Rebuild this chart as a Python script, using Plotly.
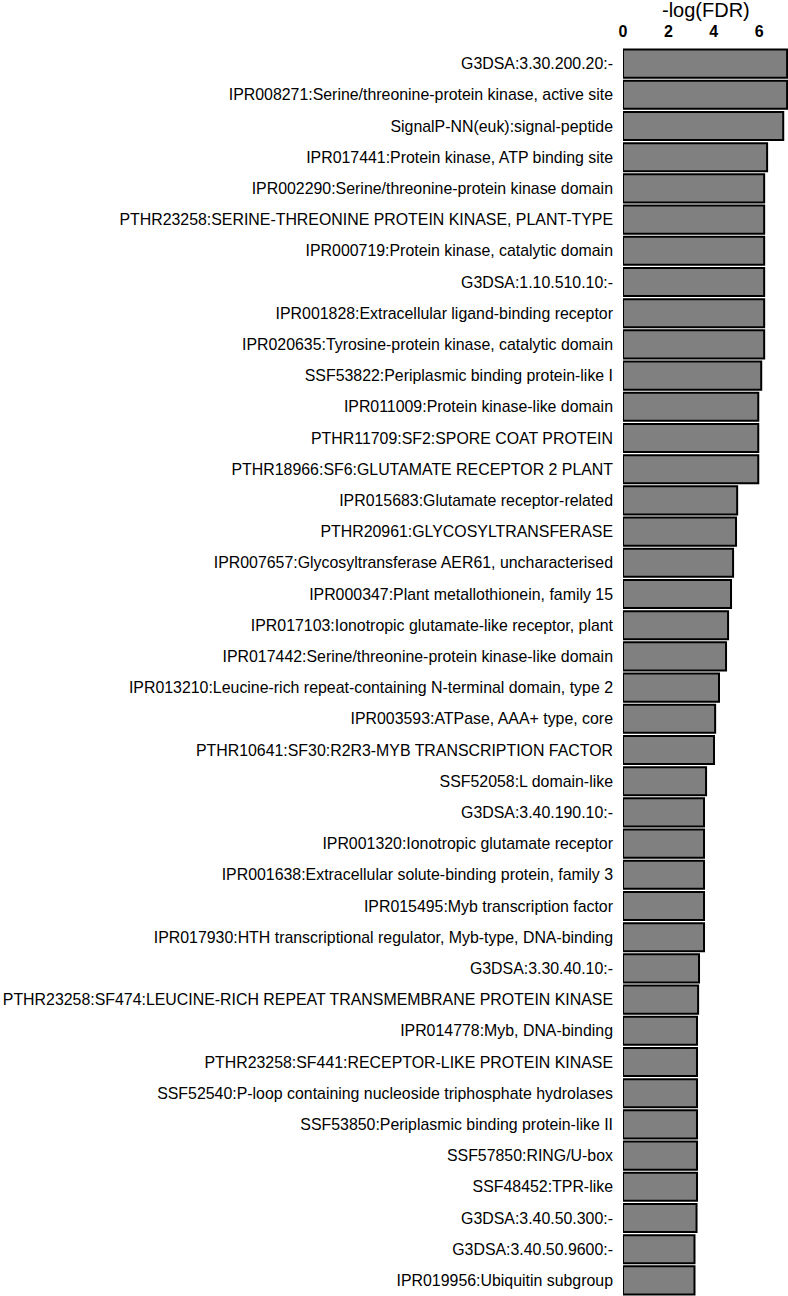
import plotly.graph_objects as go

categories = [
    "G3DSA:3.30.200.20:-",
    "IPR008271:Serine/threonine-protein kinase, active site",
    "SignalP-NN(euk):signal-peptide",
    "IPR017441:Protein kinase, ATP binding site",
    "IPR002290:Serine/threonine-protein kinase domain",
    "PTHR23258:SERINE-THREONINE PROTEIN KINASE, PLANT-TYPE",
    "IPR000719:Protein kinase, catalytic domain",
    "G3DSA:1.10.510.10:-",
    "IPR001828:Extracellular ligand-binding receptor",
    "IPR020635:Tyrosine-protein kinase, catalytic domain",
    "SSF53822:Periplasmic binding protein-like I",
    "IPR011009:Protein kinase-like domain",
    "PTHR11709:SF2:SPORE COAT PROTEIN",
    "PTHR18966:SF6:GLUTAMATE RECEPTOR 2 PLANT",
    "IPR015683:Glutamate receptor-related",
    "PTHR20961:GLYCOSYLTRANSFERASE",
    "IPR007657:Glycosyltransferase AER61, uncharacterised",
    "IPR000347:Plant metallothionein, family 15",
    "IPR017103:Ionotropic glutamate-like receptor, plant",
    "IPR017442:Serine/threonine-protein kinase-like domain",
    "IPR013210:Leucine-rich repeat-containing N-terminal domain, type 2",
    "IPR003593:ATPase, AAA+ type, core",
    "PTHR10641:SF30:R2R3-MYB TRANSCRIPTION FACTOR",
    "SSF52058:L domain-like",
    "G3DSA:3.40.190.10:-",
    "IPR001320:Ionotropic glutamate receptor",
    "IPR001638:Extracellular solute-binding protein, family 3",
    "IPR015495:Myb transcription factor",
    "IPR017930:HTH transcriptional regulator, Myb-type, DNA-binding",
    "G3DSA:3.30.40.10:-",
    "PTHR23258:SF474:LEUCINE-RICH REPEAT TRANSMEMBRANE PROTEIN KINASE",
    "IPR014778:Myb, DNA-binding",
    "PTHR23258:SF441:RECEPTOR-LIKE PROTEIN KINASE",
    "SSF52540:P-loop containing nucleoside triphosphate hydrolases",
    "SSF53850:Periplasmic binding protein-like II",
    "SSF57850:RING/U-box",
    "SSF48452:TPR-like",
    "G3DSA:3.40.50.300:-",
    "G3DSA:3.40.50.9600:-",
    "IPR019956:Ubiquitin subgroup",
]

neg_log_fdr = [
    7.23, 7.23, 7.06, 6.35, 6.22, 6.22, 6.22, 6.22, 6.22, 6.22,
    6.09, 5.96, 5.96, 5.96, 5.03, 4.98, 4.85, 4.76, 4.63, 4.54,
    4.23, 4.06, 4.01, 3.66, 3.57, 3.57, 3.57, 3.57, 3.57, 3.35,
    3.31, 3.26, 3.26, 3.26, 3.26, 3.26, 3.26, 3.24, 3.15, 3.15,
]

x_ticks = [0, 2, 4, 6]
x_title = "-log(FDR)"

fig = go.Figure(
    go.Bar(
        x=neg_log_fdr,
        y=categories,
        orientation="h",
        marker=dict(color="#808080", line=dict(color="black", width=2)),
    )
)

fig.update_layout(
    width=788,
    height=1296,
    margin=dict(l=623, r=0, t=48, b=0),
    plot_bgcolor="white",
    paper_bgcolor="white",
    bargap=0.1,
    showlegend=False,
    font=dict(family="Liberation Sans, Arial", color="black", size=16),
    annotations=[
        dict(
            text=x_title,
            xref="paper", yref="paper",
            x=0.5, y=1,
            xanchor="center", yanchor="middle",
            yshift=38,
            showarrow=False,
            font=dict(size=20),
        )
    ],
)

fig.update_xaxes(
    side="top",
    range=[0, 7.27],
    tickvals=x_ticks,
    ticktext=["<b>%d</b>" % v for v in x_ticks],
    tickfont=dict(size=16, family="Liberation Sans, Arial"),
    showgrid=False,
    zeroline=False,
    showline=False,
    ticks="outside",
    ticklen=4,
    tickcolor="rgba(0,0,0,0)",
    automargin=False,
)

fig.update_yaxes(
    autorange="reversed",
    showgrid=False,
    zeroline=False,
    showline=False,
    ticks="",
    automargin=False,
    ticklabelstandoff=9,
    tickfont=dict(size=15.9),
)

fig.write_html(
    "out.html",
    config={"displayModeBar": False},
    post_script="document.body.style.margin='0px';",
)
